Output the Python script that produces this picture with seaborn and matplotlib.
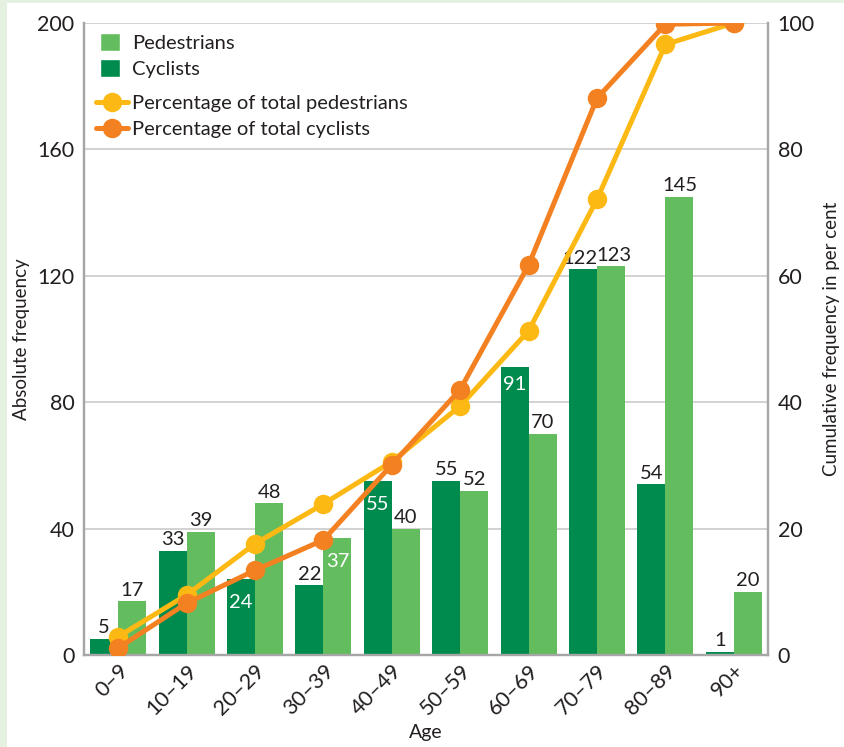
import numpy as np
import pandas as pd
import matplotlib
matplotlib.use("Agg")
import matplotlib.pyplot as plt
from matplotlib.patches import Patch, Rectangle
from matplotlib.lines import Line2D
import seaborn as sns

# --- data -------------------------------------------------------------
age_groups = ["0–9", "10–19", "20–29", "30–39", "40–49",
              "50–59", "60–69", "70–79", "80–89", "90+"]
pedestrians = [17, 39, 48, 37, 40, 52, 70, 123, 145, 20]
cyclists = [5, 33, 24, 22, 55, 55, 91, 122, 54, 1]
pct_pedestrians = [2.9, 9.5, 17.6, 23.9, 30.6, 39.4, 51.3, 72.1, 96.6, 100.0]
pct_cyclists = [1.1, 8.2, 13.4, 18.2, 30.1, 42.0, 61.7, 88.1, 99.8, 100.0]

# labels printed in white inside the bar top
inside_cyclists = {"20–29", "40–49", "60–69"}
inside_pedestrians = {"30–39"}

LIGHT_GREEN = "#63BD5E"
DARK_GREEN = "#008B4E"
YELLOW = "#FDB913"
ORANGE = "#F38121"
TEXT = "#231F20"
GRID = "#CFCFCF"
SPINE = "#A6A6A6"

sns.set_theme(style="white")
plt.rcParams["font.family"] = ["Lato", "DejaVu Sans"]
plt.rcParams["text.color"] = TEXT

fig = plt.figure(figsize=(8.44, 7.47), dpi=100)
fig.patch.set_facecolor("white")
# pale green frame strips
fig.patches.append(Rectangle((0, 0), 7 / 844, 1, transform=fig.transFigure,
                             facecolor="#E6F2E1", edgecolor="none", zorder=0))
fig.patches.append(Rectangle((0, 1 - 3 / 747), 1, 3 / 747, transform=fig.transFigure,
                             facecolor="#E6F2E1", edgecolor="none", zorder=0))

ax = fig.add_axes([84 / 844, 1 - 655 / 747, (768 - 84) / 844, (655 - 23) / 747])

df = pd.DataFrame({
    "Age": age_groups * 2,
    "Count": cyclists + pedestrians,
    "Group": ["Cyclists"] * len(age_groups) + ["Pedestrians"] * len(age_groups),
})
sns.barplot(data=df, x="Age", y="Count", hue="Group",
            hue_order=["Cyclists", "Pedestrians"],
            palette={"Cyclists": DARK_GREEN, "Pedestrians": LIGHT_GREEN},
            order=age_groups, width=0.82, gap=0, saturation=1,
            edgecolor="none", linewidth=0, legend=False, ax=ax, zorder=2)

ax.set_xlim(-0.5, len(age_groups) - 0.5)
ax.set_ylim(0, 200)
ax.set_yticks([0, 40, 80, 120, 160, 200])
ax.yaxis.grid(True, color=GRID, linewidth=1.3, zorder=0)
ax.set_axisbelow(True)
ax.tick_params(axis="both", length=0, labelsize=15.5, colors=TEXT)
ax.tick_params(axis="y", pad=7)
ax.tick_params(axis="x", pad=4)
plt.setp(ax.get_xticklabels(), rotation=45, ha="right", rotation_mode="anchor")
ax.set_xlabel("Age", fontsize=14, color=TEXT, labelpad=4)
ax.set_ylabel("Absolute frequency", fontsize=13.5, color=TEXT, labelpad=5)
for side in ["left", "right", "bottom"]:
    ax.spines[side].set_color(SPINE)
    ax.spines[side].set_linewidth(1.6)
ax.spines["top"].set_visible(False)

# value labels
for container, values, inside, nudge in zip(ax.containers,
                                            [cyclists, pedestrians],
                                            [inside_cyclists, inside_pedestrians],
                                            [-2, 2]):
    for bar, val, grp in zip(container, values, age_groups):
        xc = bar.get_x() + bar.get_width() / 2
        if grp in inside:
            ax.annotate(str(val), (xc, val), xytext=(0, -6 if val > 80 else -11),
                        textcoords="offset points", ha="center", va="top",
                        fontsize=14.5, color="white", zorder=5)
        else:
            dx = nudge if val > 100 and val < 130 else 0
            ax.annotate(str(val), (xc, val), xytext=(dx, 2),
                        textcoords="offset points", ha="center", va="bottom",
                        fontsize=14.5, color=TEXT, zorder=5)

# cumulative percentages on the secondary axis
ax2 = ax.twinx()
xpos = np.arange(len(age_groups))
sns.lineplot(x=xpos, y=pct_pedestrians, color=YELLOW, linewidth=3.6,
             marker="o", markersize=14, markeredgewidth=0, ax=ax2, zorder=4)
sns.lineplot(x=xpos, y=pct_cyclists, color=ORANGE, linewidth=3.6,
             marker="o", markersize=14, markeredgewidth=0, ax=ax2, zorder=5)
ax2.set_ylim(0, 100)
ax2.set_yticks([0, 20, 40, 60, 80, 100])
ax2.tick_params(axis="y", length=0, labelsize=15.5, colors=TEXT, pad=7)
ax2.set_ylabel("Cumulative frequency in per cent", fontsize=13.5, color=TEXT, labelpad=6)
ax2.grid(False)
for side in ["left", "right", "bottom"]:
    ax2.spines[side].set_color(SPINE)
    ax2.spines[side].set_linewidth(1.6)
ax2.spines["top"].set_visible(False)
ax2.set_xlim(-0.5, len(age_groups) - 0.5)

# legends
bar_handles = [Patch(facecolor=LIGHT_GREEN, label="Pedestrians"),
               Patch(facecolor=DARK_GREEN, label="Cyclists")]
leg1 = ax2.legend(handles=bar_handles, loc="upper left", bbox_to_anchor=(0.005, 1.003),
                  frameon=False, fontsize=14.5, handlelength=1.0, handleheight=1.0,
                  handletextpad=0.6, labelspacing=0.35, borderaxespad=0.2)
ax2.add_artist(leg1)
line_handles = [Line2D([], [], color=YELLOW, linewidth=3.6, marker="o", markersize=14,
                       markeredgewidth=0, label="Percentage of total pedestrians"),
                Line2D([], [], color=ORANGE, linewidth=3.6, marker="o", markersize=14,
                       markeredgewidth=0, label="Percentage of total cyclists")]
ax2.legend(handles=line_handles, loc="upper left", bbox_to_anchor=(0.0, 0.905),
           frameon=False, fontsize=14.5, handlelength=1.6, handletextpad=0.2,
           labelspacing=0.45, borderaxespad=0.2)

fig.savefig("out.png", dpi=100, facecolor=fig.get_facecolor())
